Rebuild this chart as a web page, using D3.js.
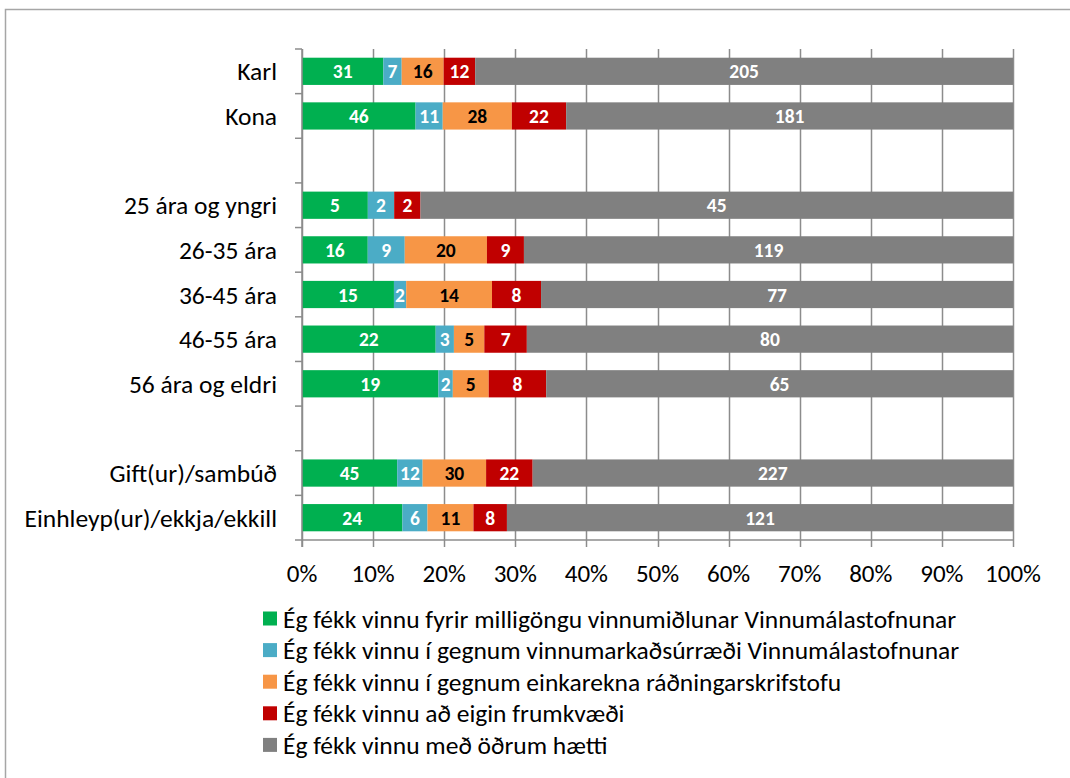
<!DOCTYPE html>
<html>
<head>
<meta charset="utf-8">
<script src="https://cdn.jsdelivr.net/npm/d3@7"></script>
<style>
  body { margin: 0; background: #fff; }
  svg text { font-family: Carlito, Lato, "Open Sans", sans-serif; }
</style>
</head>
<body>
<svg width="1070" height="778"></svg>
<script>
// rows, "" = spacer row
var categories = ["Karl", "Kona", "", "25 ára og yngri", "26-35 ára", "36-45 ára", "46-55 ára", "56 ára og eldri", "", "Gift(ur)/sambúð", "Einhleyp(ur)/ekkja/ekkill"];

var series = [
    "Ég fékk vinnu fyrir milligöngu vinnumiðlunar Vinnumálastofnunar",
    "Ég fékk vinnu í gegnum vinnumarkaðsúrræði Vinnumálastofnunar",
    "Ég fékk vinnu í gegnum einkarekna ráðningarskrifstofu",
    "Ég fékk vinnu að eigin frumkvæði",
    "Ég fékk vinnu með öðrum hætti"
];

var colors = ["#00B050", "#4BACC6", "#F79646", "#C00000", "#808080"];
var labelColors = ["#fff", "#fff", "#000", "#fff", "#fff"];

// counts per row, in series order
var vinnumidlun  = [31, 46, null, 5, 16, 15, 22, 19, null, 45, 24];
var urraedi      = [7, 11, null, 2, 9, 2, 3, 2, null, 12, 6];
var einkarekna   = [16, 28, null, 0, 20, 14, 5, 5, null, 30, 11];
var frumkvaedi   = [12, 22, null, 2, 9, 8, 7, 8, null, 22, 8];
var annad        = [205, 181, null, 45, 119, 77, 80, 65, null, 227, 121];

var xTicks = [0, 0.1, 0.2, 0.3, 0.4, 0.5, 0.6, 0.7, 0.8, 0.9, 1];

var values = [vinnumidlun, urraedi, einkarekna, frumkvaedi, annad];

var svg = d3.select("svg");

// outer chart-area border (runs off the right/bottom of the picture)
svg.append("rect")
    .attr("x", 5.5).attr("y", 9.5)
    .attr("width", 1100).attr("height", 800)
    .attr("fill", "none")
    .attr("stroke", "#a6a6a6")
    .attr("stroke-width", 1.5);

var plotLeft = 302, plotRight = 1013, plotTop = 49, plotBottom = 540;

var x = d3.scaleLinear().domain([0, 1]).range([plotLeft, plotRight]);
var y = d3.scaleBand()
    .domain(d3.range(categories.length))
    .range([plotTop, plotBottom])
    .paddingInner(0.39)
    .paddingOuter(0.195);
var yStep = (plotBottom - plotTop) / categories.length;

// vertical gridlines
svg.append("g")
    .selectAll("line")
    .data(xTicks)
    .enter().append("line")
    .attr("x1", function (d) { return Math.round(x(d)) + 0.5; })
    .attr("x2", function (d) { return Math.round(x(d)) + 0.5; })
    .attr("y1", plotTop)
    .attr("y2", plotBottom)
    .attr("stroke", "#8c8c8c")
    .attr("stroke-width", 1.5);

// build stacks
var rows = [];
categories.forEach(function (c, i) {
    if (values[0][i] === null) return;
    var total = d3.sum(values, function (s) { return s[i]; });
    var acc = 0;
    values.forEach(function (s, k) {
        var v = s[i];
        rows.push({ row: i, k: k, v: v, x0: acc / total, x1: (acc + v) / total });
        acc += v;
    });
});

var segs = svg.append("g")
    .selectAll("g")
    .data(rows.filter(function (d) { return d.v > 0; }))
    .enter().append("g");

segs.append("rect")
    .attr("x", function (d) { return x(d.x0); })
    .attr("width", function (d) { return x(d.x1) - x(d.x0); })
    .attr("y", function (d) { return y(d.row); })
    .attr("height", y.bandwidth())
    .attr("fill", function (d) { return colors[d.k]; });

segs.append("text")
    .attr("x", function (d) { return (x(d.x0) + x(d.x1)) / 2; })
    .attr("y", function (d) { return y(d.row) + y.bandwidth() / 2; })
    .attr("dy", "0.36em")
    .attr("text-anchor", "middle")
    .attr("font-size", 19.5)
    .attr("font-weight", "bold")
    .attr("fill", function (d) { return labelColors[d.k]; })
    .text(function (d) { return d.v; });

// axes
var axes = svg.append("g").attr("stroke", "#8c8c8c").attr("stroke-width", 1.5);

axes.append("line")
    .attr("x1", plotLeft).attr("x2", plotLeft)
    .attr("y1", plotTop).attr("y2", plotBottom + 7);
axes.append("line")
    .attr("x1", plotLeft - 7).attr("x2", plotRight)
    .attr("y1", plotBottom).attr("y2", plotBottom);

// left ticks between rows
axes.selectAll(".yt")
    .data(d3.range(categories.length))
    .enter().append("line")
    .attr("x1", plotLeft - 7).attr("x2", plotLeft)
    .attr("y1", function (d) { return plotTop + d * yStep; })
    .attr("y2", function (d) { return plotTop + d * yStep; });

// bottom ticks
axes.selectAll(".xt")
    .data(xTicks)
    .enter().append("line")
    .attr("x1", function (d) { return Math.round(x(d)) + 0.5; })
    .attr("x2", function (d) { return Math.round(x(d)) + 0.5; })
    .attr("y1", plotBottom)
    .attr("y2", plotBottom + 7);

svg.append("g")
    .selectAll("text")
    .data(xTicks)
    .enter().append("text")
    .attr("x", function (d) { return x(d); })
    .attr("y", 582)
    .attr("text-anchor", "middle")
    .attr("font-size", 25)
    .attr("fill", "#000")
    .text(d3.format(".0%"));

svg.append("g")
    .selectAll("text")
    .data(categories)
    .enter().append("text")
    .attr("x", 277)
    .attr("y", function (d, i) { return y(i) + y.bandwidth() / 2; })
    .attr("dy", "0.36em")
    .attr("text-anchor", "end")
    .attr("font-size", 25.5)
    .attr("fill", "#000")
    .text(function (d) { return d; });

// legend
var legend = svg.append("g")
    .selectAll("g")
    .data(series)
    .enter().append("g")
    .attr("transform", function (d, i) { return "translate(263," + (618.5 + i * 31.6) + ")"; });

legend.append("rect")
    .attr("x", 0).attr("y", -7)
    .attr("width", 14).attr("height", 14)
    .attr("fill", function (d, i) { return colors[i]; });

legend.append("text")
    .attr("x", 20)
    .attr("dy", "0.36em")
    .attr("font-size", 25.5)
    .attr("fill", "#000")
    .text(function (d) { return d; });
</script>
</body>
</html>
